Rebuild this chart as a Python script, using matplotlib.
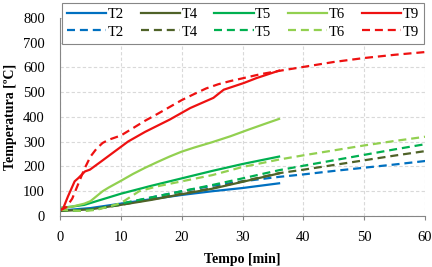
import numpy as np
import matplotlib.pyplot as plt

# dados (tempo em min, temperatura em ºC)
t9_sol_t = [0, 0.5, 1.3, 2.4, 3, 4.1, 4.9, 6.8, 9, 11.2, 14, 18, 21.4, 25.2, 26.9, 30.2, 32.3, 36]
t9_sol_T = [25, 30, 79, 140, 153, 180, 187, 221, 261, 301, 340, 389, 436, 477, 510, 537, 557, 587]
t9_das_t = [0, 1, 2, 3, 4, 5, 6, 7, 8, 10, 12, 14, 16, 18, 20, 22, 24, 26, 28, 30, 33, 36, 40, 45, 50, 55, 60]
t9_das_T = [23, 35, 70, 130, 190, 240, 272, 295, 308, 325, 355, 385, 412, 440, 468, 492, 515, 532, 545, 556, 573, 586, 602, 622, 638, 651, 662]

t6_sol_t = [0, 2, 4, 5, 6, 7, 8, 10, 12, 14, 16, 18, 20, 22, 25, 28, 31, 34, 36]
t6_sol_T = [30, 38, 50, 60, 80, 100, 115, 142, 170, 195, 218, 240, 260, 276, 298, 322, 349, 375, 392]
t6_das_t = [0, 2, 4, 6, 8, 10, 13, 16, 20, 25, 30, 36, 40, 45, 50, 55, 60]
t6_das_T = [25, 22, 20, 25, 38, 52, 100, 120, 140, 165, 198, 228, 245, 265, 285, 303, 320]

t5_sol_t = [0, 2, 4, 6, 8, 10, 15, 20, 25, 30, 36]
t5_sol_T = [33, 38, 45, 60, 75, 90, 122, 152, 182, 210, 240]
t5_das_t = [0, 2, 4, 6, 8, 10, 15, 20, 25, 30, 36, 40, 45, 50, 55, 60]
t5_das_T = [25, 22, 22, 28, 38, 50, 75, 100, 125, 152, 185, 203, 225, 247, 269, 290]

t4_sol_t = [0, 5, 10, 15, 20, 25, 30, 36]
t4_sol_T = [20, 27, 45, 65, 88, 110, 138, 172]
t4_das_t = [0, 5, 10, 15, 20, 25, 30, 36, 40, 45, 50, 55, 60]
t4_das_T = [22, 25, 45, 68, 90, 112, 140, 173, 187, 206, 225, 244, 262]

t2_sol_t = [0, 5, 10, 15, 20, 25, 30, 36]
t2_sol_T = [22, 32, 50, 68, 85, 100, 113, 132]
t2_das_t = [0, 5, 10, 15, 20, 25, 30, 36, 40, 45, 50, 55, 60]
t2_das_T = [22, 26, 48, 75, 100, 122, 140, 158, 168, 182, 195, 208, 222]

cores = {'T2': '#0070C0', 'T4': '#4F6228', 'T5': '#00B050', 'T6': '#92D050', 'T9': '#EE1111'}

series = [
    ('T2', t2_sol_t, t2_sol_T, t2_das_t, t2_das_T),
    ('T4', t4_sol_t, t4_sol_T, t4_das_t, t4_das_T),
    ('T5', t5_sol_t, t5_sol_T, t5_das_t, t5_das_T),
    ('T6', t6_sol_t, t6_sol_T, t6_das_t, t6_das_T),
    ('T9', t9_sol_t, t9_sol_T, t9_das_t, t9_das_T),
]

plt.rcParams['font.family'] = ['Liberation Serif', 'DejaVu Serif']

fig = plt.figure(figsize=(4.32, 2.67), dpi=100)
ax = fig.add_axes([0.139, 0.191, 0.845, 0.742])

tracejado = (0, (3.6, 2.2))
handles = []
for nome, ts, Ts, td, Td in series:
    h1, = ax.plot(ts, Ts, color=cores[nome], lw=1.6, label=nome)
    h2, = ax.plot(td, Td, color=cores[nome], lw=1.6, ls=tracejado, label=nome)
    handles += [h1, h2]

ax.set_xlim(0, 60)
ax.set_ylim(0, 800)
ax.set_xticks(np.arange(0, 61, 10))
ax.set_yticks(np.arange(0, 801, 100))
ax.grid(True, color='#D9D9D9', ls=(0, (3, 2)), lw=0.8)
ax.set_axisbelow(True)
for s in ['top', 'right']:
    ax.spines[s].set_visible(False)
for s in ['left', 'bottom']:
    ax.spines[s].set_color('#868686')
ax.tick_params(axis='both', labelsize=10.5, color='#868686', length=3, width=0.8)
ax.tick_params(axis='x', pad=8)
ax.tick_params(axis='y', length=0, pad=11)

ax.set_xlabel('Tempo [min]', fontsize=10, fontweight='bold', labelpad=6)
ax.set_ylabel('Temperatura [ºC]', fontsize=10, fontweight='bold', labelpad=4)

leg = fig.legend(handles=handles, labels=[h.get_label() for h in handles], ncol=5,
                 loc='upper left', bbox_to_anchor=(0.1435, 0.99, 0.8375, 0.0),
                 mode='expand', borderaxespad=0, fontsize=10.5, handlelength=2.7,
                 handletextpad=0.1, borderpad=0.35, labelspacing=0.3, columnspacing=0.8,
                 fancybox=False, framealpha=1, edgecolor='#868686')
leg.get_frame().set_linewidth(0.8)

fig.savefig('out.png', dpi=100)
